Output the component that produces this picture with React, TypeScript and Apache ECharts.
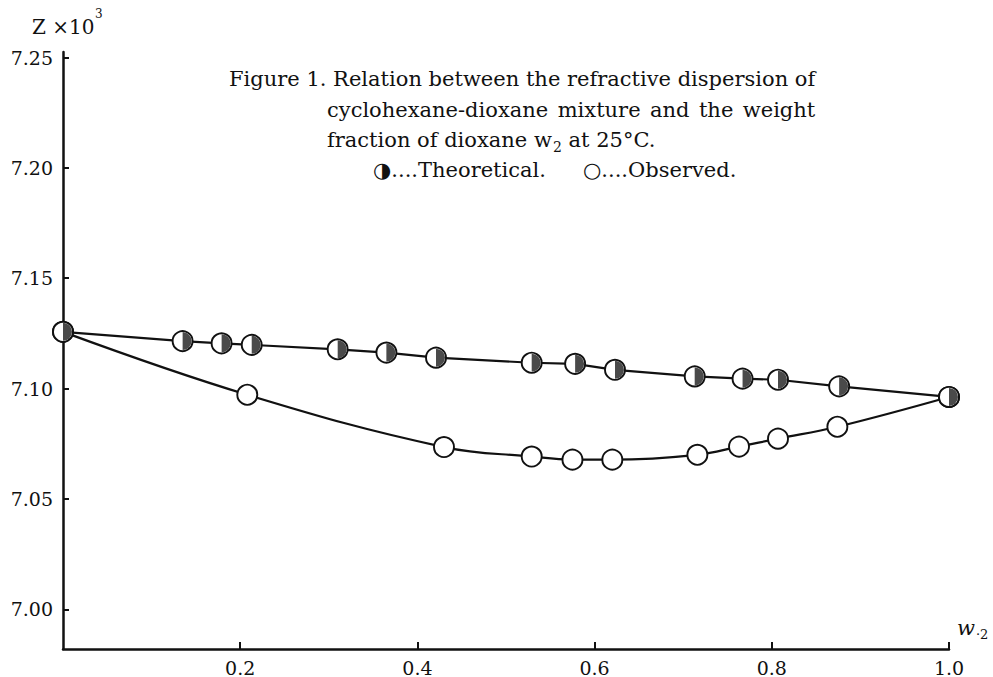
import React, { useEffect, useRef } from "react";
import * as echarts from "echarts";

// Theoretical values (half-filled markers)
const wTheo = [0, 0.135, 0.179, 0.213, 0.31, 0.365, 0.421, 0.529, 0.578, 0.623, 0.713, 0.767, 0.807, 0.876, 1.0];
const zTheo = [7.1257, 7.1215, 7.1205, 7.1198, 7.1178, 7.1163, 7.114, 7.1117, 7.1112, 7.1085, 7.1055, 7.1045, 7.104, 7.101, 7.0962];

// Observed values (open circles)
const wObs = [0, 0.208, 0.43, 0.529, 0.575, 0.62, 0.716, 0.763, 0.807, 0.874, 1.0];
const zObs = [7.1257, 7.0972, 7.0735, 7.0692, 7.0678, 7.0678, 7.07, 7.0737, 7.0773, 7.0827, 7.0962];

const xTicks = [0.2, 0.4, 0.6, 0.8, 1.0];
const yTicks = [7.0, 7.05, 7.1, 7.15, 7.2, 7.25];

const titleLine1 = "Figure 1. Relation between the refractive dispersion of";
const titleLine2Words = ["cyclohexane-dioxane", "mixture", "and", "the", "weight"];
const titleLine3a = "fraction of dioxane w";
const titleLine3sub = "2";
const titleLine3b = "at 25°C.";
const legendTheo = "◑....Theoretical.";
const legendObs = "○....Observed.";

const FONT = '"DejaVu Serif", "Liberation Serif", serif';
const INK = "#111";

export default function App() {
  const ref = useRef<HTMLDivElement>(null);
  useEffect(() => {
    if (!ref.current) return;
    const chart = echarts.init(ref.current, undefined, { renderer: "svg" });
    const theoData = wTheo.map((w, i) => [w, zTheo[i]]);
    const obsData = wObs.map((w, i) => [w, zObs[i]]);

    const ctx = document.createElement("canvas").getContext("2d") as CanvasRenderingContext2D;
    const fontOf = (size: number, italic = false) => `${italic ? "italic " : ""}${size}px ${FONT}`;
    const measure = (text: string, size: number, italic = false) => {
      ctx.font = fontOf(size, italic);
      return ctx.measureText(text).width;
    };

    const txt = (text: string, x: number, y: number, size = 21, italic = false) => ({
      type: "text",
      x,
      y,
      z: 100,
      style: {
        text,
        fill: INK,
        font: fontOf(size, italic),
        verticalAlign: "middle",
        align: "left",
      },
    });

    const TS = 21;
    const l1x = 229;
    const l1w = measure(titleLine1, TS);
    const rightEdge = l1x + l1w;
    // justified line 2
    const l2x = 327;
    const wordsW = titleLine2Words.reduce((s, w) => s + measure(w, TS), 0);
    const gap = (rightEdge - l2x - wordsW) / (titleLine2Words.length - 1);
    const line2: any[] = [];
    let cx = l2x;
    titleLine2Words.forEach((w) => {
      line2.push(txt(w, cx, 110, TS));
      cx += measure(w, TS) + gap;
    });
    const l3x = 327;
    const subX = l3x + measure(titleLine3a, TS) + 1;
    const afterX = subX + measure(titleLine3sub, 14) + measure(" ", TS);
    const wX = 957;
    const w2X = wX + measure("w", 21, true) + 1;

    const option: any = {
      animation: false,
      backgroundColor: "#fff",
      grid: { left: 63, right: 44, top: 52, bottom: 27, containLabel: false },
      xAxis: {
        type: "value",
        min: 0,
        max: 1,
        axisLine: { show: true, onZero: false, lineStyle: { color: INK, width: 2.5 } },
        axisTick: { show: true, inside: true, length: 7, lineStyle: { color: INK, width: 2 }, customValues: xTicks },
        axisLabel: {
          customValues: xTicks,
          formatter: (v: number) => v.toFixed(1),
          margin: 9,
          color: INK,
          fontFamily: FONT,
          fontSize: 19,
        },
        splitLine: { show: false },
      },
      yAxis: {
        type: "value",
        min: 6.982,
        max: 7.2525,
        axisLine: { show: true, onZero: false, lineStyle: { color: INK, width: 2.5 } },
        axisTick: { show: true, inside: true, length: 6, lineStyle: { color: INK, width: 2 }, customValues: yTicks },
        axisLabel: {
          customValues: yTicks,
          formatter: (v: number) => v.toFixed(2),
          margin: 10,
          color: INK,
          fontFamily: FONT,
          fontSize: 19,
        },
        splitLine: { show: false },
      },
      graphic: [
        txt("Z ×10", 32, 27, 20),
        txt("3", 95, 14, 12),
        txt(titleLine1, l1x, 79, TS),
        ...line2,
        txt(titleLine3a, l3x, 140, TS),
        txt(titleLine3sub, subX, 147, 14),
        txt(titleLine3b, afterX, 140, TS),
        txt(legendTheo, 373, 170, TS),
        txt(legendObs, 583, 170, TS),
        txt("w", wX, 628, 21, true),
        txt("·2", w2X, 634, 13),
      ],
      series: [
        {
          type: "line",
          data: theoData,
          showSymbol: false,
          smooth: false,
          lineStyle: { color: INK, width: 2.2 },
          z: 2,
        },
        {
          type: "line",
          data: obsData,
          showSymbol: false,
          smooth: 0.4,
          lineStyle: { color: INK, width: 2.2 },
          z: 2,
        },
        {
          type: "custom",
          data: obsData,
          encode: { x: 0, y: 1 },
          z: 5,
          renderItem: (_p: any, api: any) => {
            const c = api.coord([api.value(0), api.value(1)]);
            return {
              type: "circle",
              shape: { cx: c[0], cy: c[1], r: 10 },
              style: { fill: "#fff", stroke: INK, lineWidth: 1.9 },
            };
          },
        },
        {
          type: "custom",
          data: theoData,
          encode: { x: 0, y: 1 },
          z: 6,
          renderItem: (_p: any, api: any) => {
            const c = api.coord([api.value(0), api.value(1)]);
            return {
              type: "group",
              children: [
                {
                  type: "circle",
                  shape: { cx: c[0], cy: c[1], r: 10 },
                  style: { fill: "#fff", stroke: INK, lineWidth: 1.9 },
                },
                {
                  type: "sector",
                  shape: { cx: c[0], cy: c[1], r0: 0, r: 9, startAngle: -Math.PI / 2, endAngle: Math.PI / 2, clockwise: true },
                  style: { fill: "#4a4a4a" },
                },
              ],
            };
          },
        },
      ],
    };
    chart.setOption(option);
    return () => chart.dispose();
  }, []);
  return <div ref={ref} style={{ position: "fixed", left: 0, top: 0, width: 993, height: 677 }} />;
}
